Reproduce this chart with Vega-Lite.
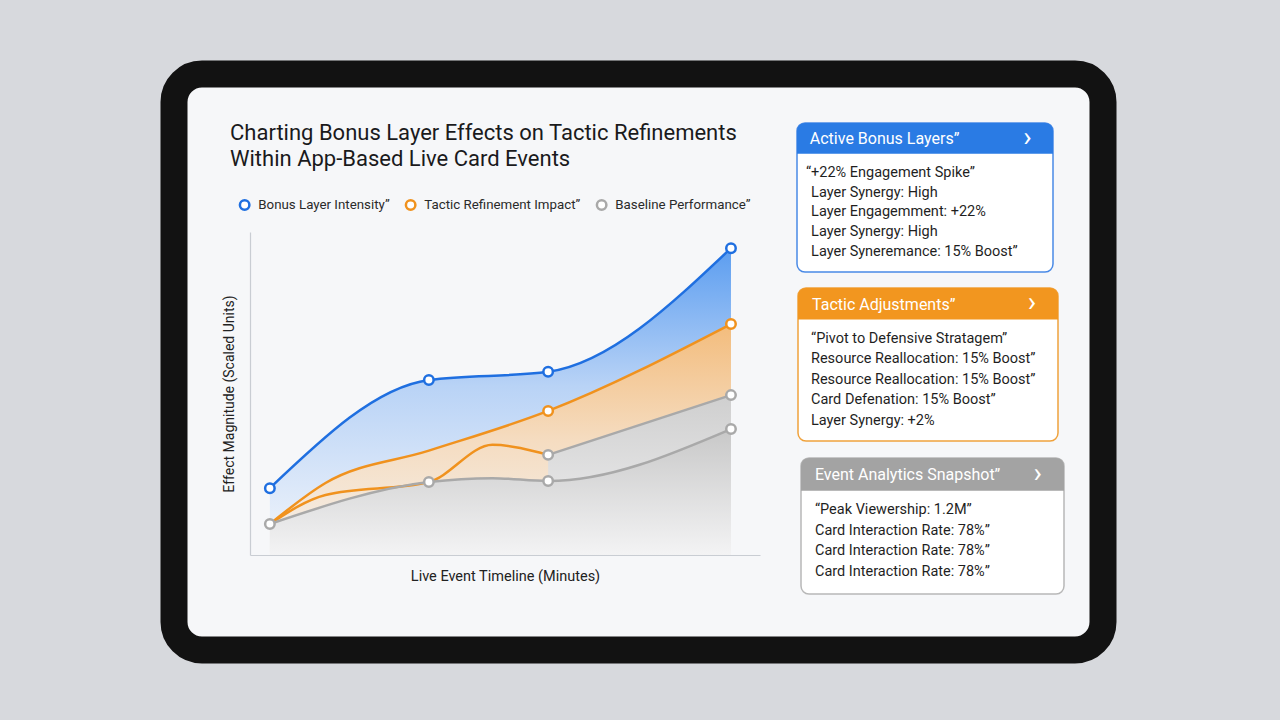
{
  "$schema": "https://vega.github.io/schema/vega-lite/v6.json",
  "width": 929,
  "height": 576,
  "autosize": {"type": "none"},
  "padding": {"left": 174, "top": 74, "right": 177, "bottom": 70},
  "background": "#d7d9dd",
  "title": {
    "text": ["Charting Bonus Layer Effects on Tactic Refinements", "Within App-Based Live Card Events"],
    "anchor": "start", "frame": "group", "dx": 56, "dy": 97, "offset": 0,
    "font": "Roboto", "fontSize": 22, "fontWeight": "normal", "color": "#1a1a1c", "lineHeight": 26
  },
  "datasets": {
    "lines": [
      {"series": "Bonus Layer Intensity”", "path": "b", "minute": 0, "value": 20.7},
      {"series": "Bonus Layer Intensity”", "path": "b", "minute": 20, "value": 54.2},
      {"series": "Bonus Layer Intensity”", "path": "b", "minute": 35, "value": 56.7},
      {"series": "Bonus Layer Intensity”", "path": "b", "minute": 58, "value": 95},
      {"series": "Tactic Refinement Impact”", "path": "o1", "minute": 0, "value": 9.6},
      {"series": "Tactic Refinement Impact”", "path": "o1", "minute": 7, "value": 22.3},
      {"series": "Tactic Refinement Impact”", "path": "o1", "minute": 20, "value": 32.3},
      {"series": "Tactic Refinement Impact”", "path": "o1", "minute": 35, "value": 44.6},
      {"series": "Tactic Refinement Impact”", "path": "o1", "minute": 58, "value": 71.5},
      {"series": "Tactic Refinement Impact”", "path": "o2", "minute": 0, "value": 9.6},
      {"series": "Tactic Refinement Impact”", "path": "o2", "minute": 7, "value": 18.6},
      {"series": "Tactic Refinement Impact”", "path": "o2", "minute": 20, "value": 22.6},
      {"series": "Tactic Refinement Impact”", "path": "o2", "minute": 28, "value": 34.1},
      {"series": "Tactic Refinement Impact”", "path": "o2", "minute": 35, "value": 31},
      {"series": "Baseline Performance”", "path": "g1", "minute": 35, "value": 31},
      {"series": "Baseline Performance”", "path": "g1", "minute": 58, "value": 49.5},
      {"series": "Baseline Performance”", "path": "g2", "minute": 0, "value": 9.6},
      {"series": "Baseline Performance”", "path": "g2", "minute": 20, "value": 22.6},
      {"series": "Baseline Performance”", "path": "g2", "minute": 28, "value": 23.8},
      {"series": "Baseline Performance”", "path": "g2", "minute": 35, "value": 22.9},
      {"series": "Baseline Performance”", "path": "g2", "minute": 58, "value": 39}
    ],
    "markers": [
      {"series": "Bonus Layer Intensity”", "minute": 0, "value": 20.7},
      {"series": "Bonus Layer Intensity”", "minute": 20, "value": 54.2},
      {"series": "Bonus Layer Intensity”", "minute": 35, "value": 56.7},
      {"series": "Bonus Layer Intensity”", "minute": 58, "value": 95},
      {"series": "Tactic Refinement Impact”", "minute": 35, "value": 44.6},
      {"series": "Tactic Refinement Impact”", "minute": 58, "value": 71.5},
      {"series": "Baseline Performance”", "minute": 0, "value": 9.6},
      {"series": "Baseline Performance”", "minute": 20, "value": 22.6},
      {"series": "Baseline Performance”", "minute": 35, "value": 31},
      {"series": "Baseline Performance”", "minute": 35, "value": 22.9},
      {"series": "Baseline Performance”", "minute": 58, "value": 49.5},
      {"series": "Baseline Performance”", "minute": 58, "value": 39}
    ],
    "panels": [
      {"panel": "p1", "kind": "header", "text": "Active Bonus Layers”", "icon": "›"},
      {"panel": "p1", "kind": "item", "line": 1, "text": "“+22% Engagement Spike”"},
      {"panel": "p1", "kind": "item", "line": 2, "text": "Layer Synergy: High"},
      {"panel": "p1", "kind": "item", "line": 3, "text": "Layer Engagemment: +22%"},
      {"panel": "p1", "kind": "item", "line": 4, "text": "Layer Synergy: High"},
      {"panel": "p1", "kind": "item", "line": 5, "text": "Layer Syneremance: 15% Boost”"},
      {"panel": "p2", "kind": "header", "text": "Tactic Adjustments”", "icon": "›"},
      {"panel": "p2", "kind": "item", "line": 1, "text": "“Pivot to Defensive Stratagem”"},
      {"panel": "p2", "kind": "item", "line": 2, "text": "Resource Reallocation: 15% Boost”"},
      {"panel": "p2", "kind": "item", "line": 3, "text": "Resource Reallocation: 15% Boost”"},
      {"panel": "p2", "kind": "item", "line": 4, "text": "Card Defenation: 15% Boost”"},
      {"panel": "p2", "kind": "item", "line": 5, "text": "Layer Synergy: +2%"},
      {"panel": "p3", "kind": "header", "text": "Event Analytics Snapshot”", "icon": "›"},
      {"panel": "p3", "kind": "item", "line": 1, "text": "“Peak Viewership: 1.2M”"},
      {"panel": "p3", "kind": "item", "line": 2, "text": "Card Interaction Rate: 78%”"},
      {"panel": "p3", "kind": "item", "line": 3, "text": "Card Interaction Rate: 78%”"},
      {"panel": "p3", "kind": "item", "line": 4, "text": "Card Interaction Rate: 78%”"}
    ]
  },
  "resolve": {"scale": {"x": "independent", "y": "independent"}},
  "layer": [
    {
      "layer": [
        {
          "data": {"name": "lines"},
          "transform": [{"filter": "datum.path === 'b'"}],
          "mark": {"type": "area", "interpolate": "monotone",
            "fill": {"gradient": "linear", "x1": 0, "y1": 0, "x2": 0, "y2": 1,
              "stops": [{"offset": 0, "color": "#5b9df0"}, {"offset": 0.45, "color": "#b9d3f6"}, {"offset": 1, "color": "#f3f6fb"}]}},
          "encoding": {
            "x": {"field": "minute", "type": "quantitative", "scale": {"domain": [-2.5, 61.65], "range": [76, 586], "nice": false, "zero": false},
              "axis": {"orient": "bottom", "offset": -95, "labels": false, "ticks": false, "grid": false, "domainColor": "#c9cdd3", "domainWidth": 1.2,
                "title": "Live Event Timeline (Minutes)", "titleFont": "Roboto", "titleFontSize": 14.5, "titleFontWeight": "normal", "titleColor": "#222222", "titlePadding": 14}},
            "y": {"field": "value", "type": "quantitative", "scale": {"domain": [0, 100], "range": [481, 158], "nice": false, "zero": false},
              "axis": {"orient": "left", "offset": -76, "labels": false, "ticks": false, "grid": false, "domainColor": "#c9cdd3", "domainWidth": 1.2,
                "title": "Effect Magnitude (Scaled Units)", "titleFont": "Roboto", "titleFontSize": 14, "titleFontWeight": "normal", "titleColor": "#222222", "titlePadding": 14}}
          }
        },
        {
          "data": {"name": "lines"},
          "transform": [{"filter": "datum.path === 'o1'"}],
          "mark": {"type": "area", "interpolate": "monotone",
            "fill": {"gradient": "linear", "x1": 0, "y1": 0, "x2": 0, "y2": 1,
              "stops": [{"offset": 0, "color": "#f3bc7c"}, {"offset": 0.5, "color": "#f5dcc0"}, {"offset": 1, "color": "#f4f1ee"}]}},
          "encoding": {
            "x": {"field": "minute", "type": "quantitative"},
            "y": {"field": "value", "type": "quantitative"}
          }
        },
        {
          "data": {"name": "lines"},
          "transform": [{"filter": "datum.path === 'g1'"}],
          "mark": {"type": "area", "interpolate": "monotone",
            "fill": {"gradient": "linear", "x1": 0, "y1": 0, "x2": 0, "y2": 1,
              "stops": [{"offset": 0, "color": "#cfcfcf"}, {"offset": 1, "color": "#f2f2f3"}]}},
          "encoding": {
            "x": {"field": "minute", "type": "quantitative"},
            "y": {"field": "value", "type": "quantitative"}
          }
        },
        {
          "data": {"name": "lines"},
          "transform": [{"filter": "datum.path === 'g2'"}],
          "mark": {"type": "area", "interpolate": "monotone",
            "fill": {"gradient": "linear", "x1": 0, "y1": 0, "x2": 0, "y2": 1,
              "stops": [{"offset": 0, "color": "#c8c8c8"}, {"offset": 1, "color": "#f3f3f4"}]}},
          "encoding": {
            "x": {"field": "minute", "type": "quantitative"},
            "y": {"field": "value", "type": "quantitative"}
          }
        },
        {
          "data": {"name": "lines"},
          "mark": {"type": "line", "interpolate": "monotone", "strokeWidth": 2.5},
          "encoding": {
            "x": {"field": "minute", "type": "quantitative"},
            "y": {"field": "value", "type": "quantitative"},
            "detail": {"field": "path"},
            "color": {"field": "series", "type": "nominal",
              "scale": {"domain": ["Bonus Layer Intensity”", "Tactic Refinement Impact”", "Baseline Performance”"], "range": ["#1f6fe0", "#f0921e", "#a9a9a9"]},
              "legend": {"title": null, "orient": "none", "legendX": 64, "legendY": 124, "direction": "horizontal",
                "symbolType": "circle", "symbolSize": 90, "symbolStrokeWidth": 2.5, "symbolFillColor": "#ffffff",
                "labelFont": "Roboto", "labelFontSize": 13.3, "labelColor": "#2a2a2a", "labelLimit": 0, "columnPadding": 10, "labelOffset": 7}}
          }
        },
        {
          "data": {"name": "markers"},
          "mark": {"type": "point", "filled": false, "fill": "#ffffff", "size": 90, "strokeWidth": 2.5, "opacity": 1},
          "encoding": {
            "x": {"field": "minute", "type": "quantitative"},
            "y": {"field": "value", "type": "quantitative"},
            "color": {"field": "series", "type": "nominal",
              "legend": {"title": null, "orient": "none", "legendX": 64, "legendY": 124, "direction": "horizontal",
                "symbolType": "circle", "symbolSize": 90, "symbolStrokeWidth": 2.5, "symbolFillColor": "#ffffff",
                "labelFont": "Roboto", "labelFontSize": 13.3, "labelColor": "#2a2a2a", "labelLimit": 0, "columnPadding": 10, "labelOffset": 7}}
          }
        }
      ]
    },
    {
      "data": {"name": "panels"},
      "transform": [{"filter": "datum.panel === 'p1'"}],
      "layer": [
        {
          "transform": [{"filter": "datum.kind === 'header'"}],
          "mark": {"type": "rect", "fill": "#ffffff", "stroke": "#4a8ae6", "strokeWidth": 1.5, "cornerRadius": 8},
          "encoding": {
            "x": {"datum": 0, "type": "quantitative", "scale": {"domain": [0, 1], "range": [623, 879], "nice": false, "zero": false}, "axis": null},
            "x2": {"datum": 1},
            "y": {"datum": -1.5, "type": "quantitative", "scale": {"domain": [-1.5, 6], "range": [49, 198], "nice": false, "zero": false}, "axis": null},
            "y2": {"datum": 6}
          }
        },
        {
          "transform": [{"filter": "datum.kind === 'header'"}],
          "mark": {"type": "rect", "fill": "#2a7be4", "cornerRadiusTopLeft": 8, "cornerRadiusTopRight": 8},
          "encoding": {
            "x": {"datum": 0, "type": "quantitative"}, "x2": {"datum": 1},
            "y": {"datum": -1.5, "type": "quantitative"}, "y2": {"datum": 0.05}
          }
        },
        {
          "transform": [{"filter": "datum.kind === 'header'"}],
          "mark": {"type": "text", "align": "left", "baseline": "middle", "font": "Roboto", "fontSize": 16, "color": "#ffffff"},
          "encoding": {"x": {"datum": 0.05, "type": "quantitative"}, "y": {"datum": -0.68, "type": "quantitative"}, "text": {"field": "text"}}
        },
        {
          "transform": [{"filter": "datum.kind === 'header'"}],
          "mark": {"type": "text", "align": "center", "baseline": "middle", "font": "Roboto", "fontSize": 28, "color": "#ffffff"},
          "encoding": {"x": {"datum": 0.9, "type": "quantitative"}, "y": {"datum": -0.75, "type": "quantitative"}, "text": {"field": "icon"}}
        },
        {
          "transform": [{"filter": "datum.kind === 'item' && datum.line === 1"}],
          "mark": {"type": "text", "align": "left", "baseline": "middle", "font": "Roboto", "fontSize": 14.5, "color": "#1f1f1f"},
          "encoding": {"x": {"datum": 0.035, "type": "quantitative"}, "y": {"field": "line", "type": "quantitative"}, "text": {"field": "text"}}
        },
        {
          "transform": [{"filter": "datum.kind === 'item' && datum.line > 1"}],
          "mark": {"type": "text", "align": "left", "baseline": "middle", "font": "Roboto", "fontSize": 14.5, "color": "#1f1f1f"},
          "encoding": {"x": {"datum": 0.055, "type": "quantitative"}, "y": {"field": "line", "type": "quantitative"}, "text": {"field": "text"}}
        }
      ]
    },
    {
      "data": {"name": "panels"},
      "transform": [{"filter": "datum.panel === 'p2'"}],
      "layer": [
        {
          "transform": [{"filter": "datum.kind === 'header'"}],
          "mark": {"type": "rect", "fill": "#ffffff", "stroke": "#f0a23c", "strokeWidth": 1.5, "cornerRadius": 8},
          "encoding": {
            "x": {"datum": 0, "type": "quantitative", "scale": {"domain": [0, 1], "range": [624, 884], "nice": false, "zero": false}, "axis": null},
            "x2": {"datum": 1},
            "y": {"datum": -1.5, "type": "quantitative", "scale": {"domain": [-1.5, 6], "range": [214, 367], "nice": false, "zero": false}, "axis": null},
            "y2": {"datum": 6}
          }
        },
        {
          "transform": [{"filter": "datum.kind === 'header'"}],
          "mark": {"type": "rect", "fill": "#f2961f", "cornerRadiusTopLeft": 8, "cornerRadiusTopRight": 8},
          "encoding": {
            "x": {"datum": 0, "type": "quantitative"}, "x2": {"datum": 1},
            "y": {"datum": -1.5, "type": "quantitative"}, "y2": {"datum": 0.05}
          }
        },
        {
          "transform": [{"filter": "datum.kind === 'header'"}],
          "mark": {"type": "text", "align": "left", "baseline": "middle", "font": "Roboto", "fontSize": 16, "color": "#ffffff"},
          "encoding": {"x": {"datum": 0.054, "type": "quantitative"}, "y": {"datum": -0.68, "type": "quantitative"}, "text": {"field": "text"}}
        },
        {
          "transform": [{"filter": "datum.kind === 'header'"}],
          "mark": {"type": "text", "align": "center", "baseline": "middle", "font": "Roboto", "fontSize": 28, "color": "#ffffff"},
          "encoding": {"x": {"datum": 0.9, "type": "quantitative"}, "y": {"datum": -0.75, "type": "quantitative"}, "text": {"field": "icon"}}
        },
        {
          "transform": [{"filter": "datum.kind === 'item'"}],
          "mark": {"type": "text", "align": "left", "baseline": "middle", "font": "Roboto", "fontSize": 14.5, "color": "#1f1f1f"},
          "encoding": {"x": {"datum": 0.05, "type": "quantitative"}, "y": {"field": "line", "type": "quantitative"}, "text": {"field": "text"}}
        }
      ]
    },
    {
      "data": {"name": "panels"},
      "transform": [{"filter": "datum.panel === 'p3'"}],
      "layer": [
        {
          "transform": [{"filter": "datum.kind === 'header'"}],
          "mark": {"type": "rect", "fill": "#ffffff", "stroke": "#b8b8b8", "strokeWidth": 1.5, "cornerRadius": 8},
          "encoding": {
            "x": {"datum": 0, "type": "quantitative", "scale": {"domain": [0, 1], "range": [627, 890], "nice": false, "zero": false}, "axis": null},
            "x2": {"datum": 1},
            "y": {"datum": -1.5, "type": "quantitative", "scale": {"domain": [-1.5, 5.05], "range": [384, 520], "nice": false, "zero": false}, "axis": null},
            "y2": {"datum": 5.05}
          }
        },
        {
          "transform": [{"filter": "datum.kind === 'header'"}],
          "mark": {"type": "rect", "fill": "#a3a3a3", "cornerRadiusTopLeft": 8, "cornerRadiusTopRight": 8},
          "encoding": {
            "x": {"datum": 0, "type": "quantitative"}, "x2": {"datum": 1},
            "y": {"datum": -1.5, "type": "quantitative"}, "y2": {"datum": 0.08}
          }
        },
        {
          "transform": [{"filter": "datum.kind === 'header'"}],
          "mark": {"type": "text", "align": "left", "baseline": "middle", "font": "Roboto", "fontSize": 16, "color": "#ffffff"},
          "encoding": {"x": {"datum": 0.053, "type": "quantitative"}, "y": {"datum": -0.68, "type": "quantitative"}, "text": {"field": "text"}}
        },
        {
          "transform": [{"filter": "datum.kind === 'header'"}],
          "mark": {"type": "text", "align": "center", "baseline": "middle", "font": "Roboto", "fontSize": 28, "color": "#ffffff"},
          "encoding": {"x": {"datum": 0.9, "type": "quantitative"}, "y": {"datum": -0.75, "type": "quantitative"}, "text": {"field": "icon"}}
        },
        {
          "transform": [{"filter": "datum.kind === 'item'"}],
          "mark": {"type": "text", "align": "left", "baseline": "middle", "font": "Roboto", "fontSize": 14.5, "color": "#1f1f1f"},
          "encoding": {"x": {"datum": 0.053, "type": "quantitative"}, "y": {"field": "line", "type": "quantitative"}, "text": {"field": "text"}}
        }
      ]
    }
  ],
  "config": {
    "view": {"fill": "#f6f7f9", "stroke": "#121212", "strokeWidth": 27, "cornerRadius": 28},
    "axis": {"grid": false},
    "legend": {"labelFont": "Roboto"}
  }
}
